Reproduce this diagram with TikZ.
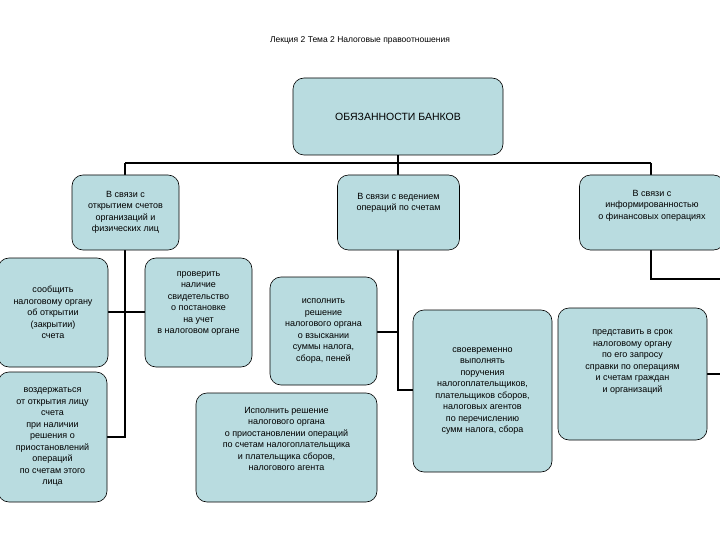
\documentclass[tikz,border=0pt]{standalone}
\usepackage{fontspec}
\setmainfont{Liberation Sans}
\definecolor{boxc}{HTML}{B9DCE0}
\begin{document}
\begin{tikzpicture}[x=1pt,y=-1pt,
  bx/.style={draw=black,fill=boxc,rounded corners=11pt,line width=0.6pt,align=center,font=\fontsize{9}{11.5}\selectfont,inner sep=0pt},
  ln/.style={line width=1.6pt}]
\useasboundingbox (0,0) rectangle (720,540);
\fill[white] (0,0) rectangle (720,540);
\node[font=\fontsize{8.5}{10}\selectfont] (title) at (360,40) {Лекция 2 Тема 2 Налоговые правоотношения};
% connectors first
\coordinate (busL) at (125,163); \coordinate (busR) at (651,163);
\draw[ln] (398,155) -- (398,163);
\draw[ln] (busL) -- (busR);
\draw[ln] (busL) -- (125,175);
\draw[ln] (busR) -- (651,175);
\draw[ln] (125,250) -- (125,437) -- (107,437);
\draw[ln] (108,312) -- (145,312);
\draw[ln] (398,163) -- (398,390) -- (413,390);
\draw[ln] (377,332) -- (398,332);
\draw[ln] (651,250) -- (651,279) -- (720,279);
\draw[ln] (707,374) -- (720,374);
\node[bx,minimum width=210,minimum height=77,font=\fontsize{10.5}{12}\selectfont] (top) at (398,116.5) {ОБЯЗАННОСТИ БАНКОВ};
\node[bx,minimum width=107,minimum height=75] (A) at (125.5,212.5) {В связи с\\открытием счетов\\организаций и\\физических лиц};
\node[bx,minimum width=122,minimum height=75] (B) at (398.5,212.5) {В связи с ведением\\операций по счетам\\[10pt]};
\node[bx,minimum width=145,minimum height=75] (C) at (652,212.5) {В связи с\\информированностью\\о финансовых операциях\\[4pt]};
\node[bx,minimum width=110,minimum height=109] (A1) at (53,312.5) {сообщить\\налоговому органу\\об открытии\\(закрытии)\\счета};
\node[bx,minimum width=109,minimum height=130] (A2) at (52.5,437) {воздержаться\\от открытия лицу\\счета\\при наличии\\решения о\\приостановлений\\операций\\по счетам этого\\лица};
\node[bx,minimum width=107,minimum height=109] (A3) at (198.5,312.5) {проверить\\наличие\\свидетельство\\о постановке\\на учет\\в налоговом органе\\[8pt]};
\node[bx,minimum width=107,minimum height=108] (B1) at (323.5,331) {исполнить\\решение\\налогового органа\\о взыскании\\суммы налога,\\сбора, пеней};
\node[bx,minimum width=181,minimum height=109] (B2) at (286.5,447.5) {Исполнить решение\\налогового органа\\о приостановлении операций\\по счетам налогоплательщика\\и плательщика сборов,\\налогового агента\\[6pt]};
\node[bx,minimum width=139,minimum height=162] (B3) at (482.5,391) {своевременно\\выполнять\\поручения\\налогоплательщиков,\\плательщиков сборов,\\налоговых агентов\\по перечислению\\сумм налога, сбора};
\node[bx,minimum width=149,minimum height=132] (C1) at (632.5,374) {представить в срок\\налоговому органу\\по его запросу\\справки по операциям\\и счетам граждан\\и организаций\\[14pt]};
\end{tikzpicture}
\end{document}
